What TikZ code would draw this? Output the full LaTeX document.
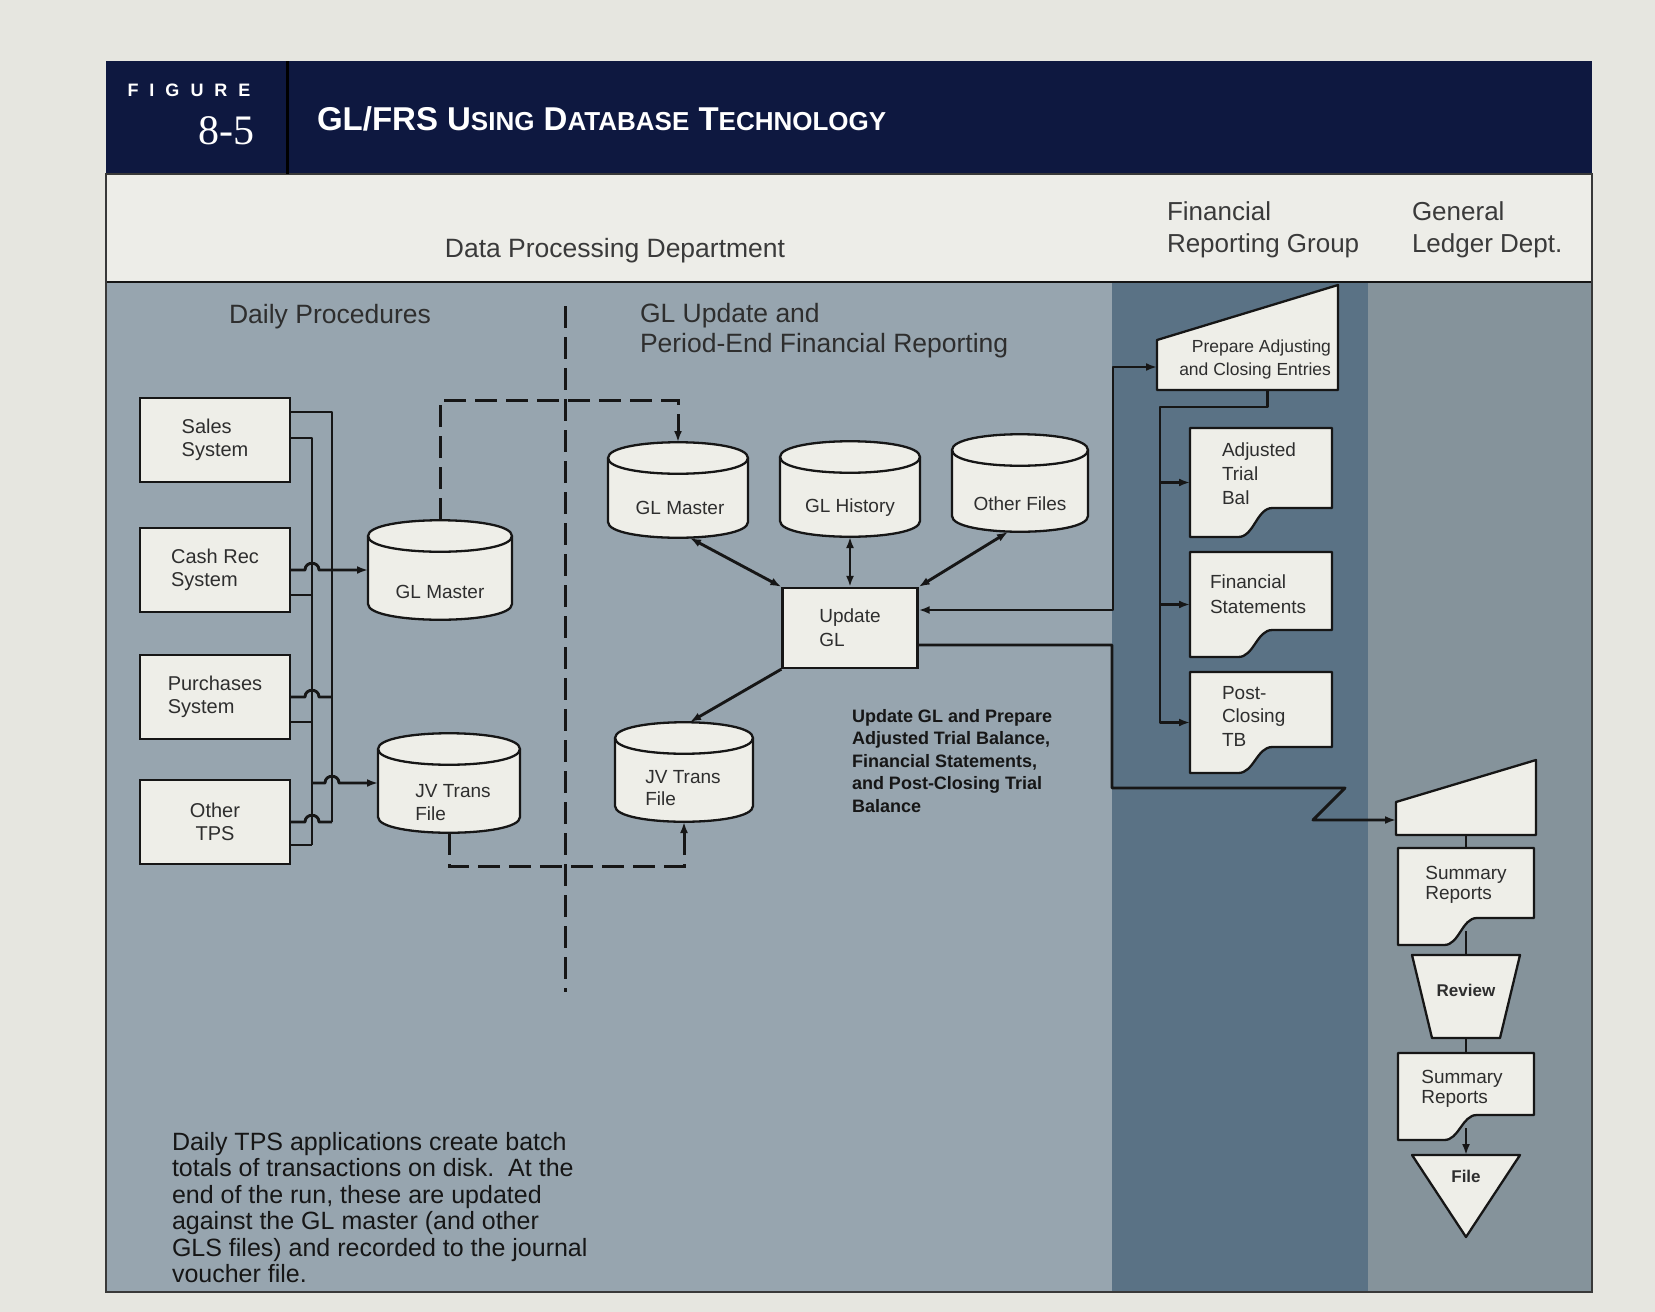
\documentclass[tikz,border=0pt]{standalone}
\usepackage{fontspec}
\setmainfont{Liberation Sans}
\newfontfamily\numserif{Liberation Serif}
\usetikzlibrary{arrows.meta,calc}
\definecolor{paperc}{HTML}{E6E6E0}
\definecolor{navyc}{HTML}{0E1840}
\definecolor{titlezone}{HTML}{EDEDE8}
\definecolor{dplane}{HTML}{97A5AF}
\definecolor{frglane}{HTML}{5A7285}
\definecolor{gllane}{HTML}{85939B}
\definecolor{shapefill}{HTML}{EEEEE8}
\definecolor{inkc}{HTML}{161616}
\definecolor{txtc}{HTML}{2E2E2E}
\definecolor{headtxt}{HTML}{3A3A3A}
\pgfdeclarelayer{back}
\pgfdeclarelayer{mid}
\pgfsetlayers{back,mid,main}
\newcommand\fsz[2]{\fontsize{#1}{#2}\selectfont}
\tikzset{
  shapeline/.style={draw=inkc, fill=shapefill, line width=2.3pt, line join=round},
  anchorbox/.style={shape=rectangle, draw=none, fill=none, inner sep=0pt, outer sep=0pt},
  wire/.style={draw=inkc, line width=2.9pt, line join=round},
  arr/.style={-{Latex[length=11pt,width=8pt]}},
  darr/.style={{Latex[length=11pt,width=8pt]}-{Latex[length=11pt,width=8pt]}},
  dashline/.style={draw=inkc, line width=3pt, dash pattern=on 22pt off 9pt},
  boxs/.style={shape=rectangle, draw=inkc, fill=shapefill, line width=2.3pt, minimum width=150pt, minimum height=84pt, align=left, font=\fsz{20}{23}, text=txtc, inner sep=0pt},
  txt/.style={inner sep=0pt, outer sep=0pt, text=txtc}
}
\newcommand\dbcyl[5]{%
  \filldraw[shapeline] ({#2-#4},{#3-#5+16}) -- ({#2-#4},{#3+#5-16}) .. controls ({#2-#4},{#3+#5+5}) and ({#2+#4},{#3+#5+5}) .. ({#2+#4},{#3+#5-16}) -- ({#2+#4},{#3-#5+16}) .. controls ({#2+#4},{#3-#5-5}) and ({#2-#4},{#3-#5-5}) .. ({#2-#4},{#3-#5+16}) -- cycle;
  \draw[shapeline,fill=none] ({#2-#4},{#3-#5+16}) .. controls ({#2-#4},{#3-#5+37}) and ({#2+#4},{#3-#5+37}) .. ({#2+#4},{#3-#5+16});
  \node[anchorbox, minimum width={2*#4*1pt}, minimum height={2*#5*1pt}] (#1) at (#2,#3) {};
}
\newcommand\docshape[6]{%
  \filldraw[shapeline] (#2,#3) -- (#4,#3) -- (#4,{#5-#6}) -- ({#2+0.58*(#4-#2)},{#5-#6}) .. controls ({#2+0.47*(#4-#2)},{#5-#6}) and ({#2+0.45*(#4-#2)},#5) .. ({#2+0.34*(#4-#2)},#5) -- (#2,#5) -- cycle;
  \node[anchorbox, minimum width={(#4-#2)*1pt}, minimum height={(#5-#3)*1pt}] (#1) at ({(#2+#4)/2},{(#3+#5)/2}) {};
}
\newcommand\mishape[6]{%
  \filldraw[shapeline] (#2,{#3+#6}) -- (#4,#3) -- (#4,#5) -- (#2,#5) -- cycle;
  \node[anchorbox, minimum width={(#4-#2)*1pt}, minimum height={(#5-#3)*1pt}] (#1) at ({(#2+#4)/2},{(#3+#5)/2}) {};
}
\begin{document}
\begin{tikzpicture}[x=1pt,y=-1pt]
\useasboundingbox (0,0) rectangle (1655,1312);
\begin{pgfonlayer}{back}
  \fill[paperc] (0,0) rectangle (1655,1312);
  \fill[navyc] (106,61) rectangle (1592,174);
  \fill[titlezone] (106,174) rectangle (1592,282);
  \fill[dplane] (106,282) rectangle (1112,1292);
  \fill[frglane] (1112,282) rectangle (1368,1292);
  \fill[gllane] (1368,282) rectangle (1592,1292);
  \draw[inkc, line width=1.5pt] (106,282) -- (1592,282);
  \draw[inkc!85, line width=1.5pt] (106,174) rectangle (1592,1292);
  \draw[black, line width=3pt] (287,61) -- (287,174);
\end{pgfonlayer}

% header texts
\node[txt, text=white, font=\bfseries\fsz{18}{20}] (figw) at (189,90) {F\hspace{11pt}I\hspace{11pt}G\hspace{11pt}U\hspace{11pt}R\hspace{11pt}E};
\node[txt, text=white, font=\numserif\fsz{42}{44}, anchor=east] (fignum) at (254,131) {8-5};
\node[txt, text=white, font=\bfseries\fsz{33}{36}, anchor=west] (title) at (317,119) {GL/FRS U{\fsz{26}{30}SING} D{\fsz{26}{30}ATABASE} T{\fsz{26}{30}ECHNOLOGY}};
\node[txt, text=headtxt, font=\fsz{26.5}{30}] (dpd) at (615,251) {Data Processing Department};
\node[txt, text=headtxt, font=\fsz{26}{32}, anchor=west, align=left] (frg) at (1167,230) {Financial\\Reporting Group};
\node[txt, text=headtxt, font=\fsz{26}{32}, anchor=west, align=left] (gld) at (1412,230) {General\\Ledger Dept.};
\node[txt, font=\fsz{26.5}{30}] (dproc) at (330,317) {Daily Procedures};
\node[txt, font=\fsz{26.5}{30}, anchor=west, align=left] (glupd) at (640,331) {GL Update and\\Period-End Financial Reporting};

% left boxes
\node[boxs] (sales) at (215,440) {Sales\\System};
\node[boxs] (cash) at (215,570) {Cash Rec\\System};
\node[boxs] (purch) at (215,697) {Purchases\\System};
\node[boxs, align=center] (other) at (215,822) {Other\\TPS};

% daily cylinders
\dbcyl{glmA}{440}{570}{72}{50}
\node[txt, font=\fsz{19}{23}] (glmAt) at (440,592) {GL Master};
\dbcyl{jvA}{449}{783}{71}{50}
\node[txt, font=\fsz{19}{23}, align=left] (jvAt) at (453,803) {JV Trans\\File};

% GL update cylinders
\dbcyl{glmB}{678}{490}{70}{48}
\node[txt, font=\fsz{19}{23}] (glmBt) at (680,508) {GL Master};
\dbcyl{glhist}{850}{489}{70}{48}
\node[txt, font=\fsz{19}{23}] (glhistt) at (850,508) {GL History};
\dbcyl{othf}{1020}{483}{68}{49}
\node[txt, font=\fsz{19}{23}] (othft) at (1020,504) {Other Files};
\node[boxs, minimum width=135pt, minimum height=80pt, font=\fsz{19}{24}] (upd) at (850,628) {Update\\GL};
\dbcyl{jvB}{684}{772}{69}{50}
\node[txt, font=\fsz{19}{22}, align=left] (jvBt) at (683,788) {JV Trans\\File};

\node[txt, text=inkc, font=\bfseries\fsz{18}{22.5}, anchor=north west, align=left] (upnote) at (852,709) {Update GL and Prepare\\Adjusted Trial Balance,\\Financial Statements,\\and Post-Closing Trial\\Balance};
\node[txt, text=inkc, font=\fsz{25}{26.5}, anchor=north west, align=left] (daynote) at (172,1132) {Daily TPS applications create batch\\totals of transactions on disk.\ \ At the\\end of the run, these are updated\\against the GL master (and other\\GLS files) and recorded to the journal\\voucher file.};

% financial reporting group
\mishape{prep}{1157}{285}{1338}{390}{55}
\node[txt, font=\fsz{17.5}{23}, anchor=east, align=right] (prept) at (1331,359) {Prepare Adjusting\\and Closing Entries};
\docshape{atb}{1190}{428}{1332}{537}{29}
\node[txt, font=\fsz{19}{24}, anchor=west, align=left] (atbt) at (1222,474) {Adjusted\\Trial\\Bal};
\docshape{fs}{1190}{552}{1332}{657}{27}
\node[txt, font=\fsz{19}{25}, anchor=west, align=left] (fst) at (1210,594) {Financial\\Statements};
\docshape{pct}{1190}{672}{1332}{773}{26}
\node[txt, font=\fsz{19}{23.5}, anchor=west, align=left] (pctt) at (1222,716) {Post-\\Closing\\TB};

% general ledger dept
\mishape{mi}{1396}{760}{1536}{835}{42}
\docshape{sr1}{1398}{848}{1534}{945}{27}
\node[txt, font=\fsz{19}{20}, align=left] (sr1t) at (1466,885) {Summary\\Reports};
\filldraw[shapeline] (1412,955) -- (1520,955) -- (1500,1038) -- (1432,1038) -- cycle;
\node[anchorbox, minimum width=108pt, minimum height=83pt] (rv) at (1466,996.5) {};
\node[txt, font=\bfseries\fsz{17}{20}] (rvt) at (1466,990) {Review};
\docshape{sr2}{1398}{1053}{1534}{1140}{25}
\node[txt, font=\fsz{19}{20}, align=left] (sr2t) at (1462,1089) {Summary\\Reports};
\filldraw[shapeline] (1412,1155) -- (1520,1155) -- (1466,1237) -- cycle;
\node[anchorbox, minimum width=108pt, minimum height=82pt] (fl) at (1466,1196) {};
\node[txt, font=\bfseries\fsz{17}{20}] (flt) at (1466,1176) {File};

\coordinate (frbus) at (1160,407);
\coordinate (ibj) at (312,783);

\begin{pgfonlayer}{mid}
  % buses
  \draw[wire] ([yshift=28pt]sales.east) -- (332,412) -- (332,822);
  \draw[wire] ([yshift=2pt]sales.east) -- (312,438) -- (312,845);
  \draw[wire,arr] (cash.east) -- (305,570) .. controls (305,561) and (319,561) .. (319,570) -- (glmA.west);
  \draw[wire] ([yshift=-25pt]cash.east) -- (312,595);
  \draw[wire] (purch.east) -- (305,697) .. controls (305,688) and (319,688) .. (319,697) -- (332,697);
  \draw[wire] ([yshift=-25pt]purch.east) -- (312,722);
  \draw[wire,arr] (ibj) -- (325,783) .. controls (325,774) and (339,774) .. (339,783) -- (jvA.west);
  \draw[wire] (other.east) -- (305,822) .. controls (305,813) and (319,813) .. (319,822) -- (332,822);
  \draw[wire] ([yshift=-23pt]other.east) -- (312,845);
  % dashed
  \draw[dashline] (565,306) -- (565,992);
  \draw[dashline,arr] (glmA.north) -- (440,400) -- (678,400) -- (glmB.north);
  \draw[dashline,arr] (jvA.south) -- (449,866) -- (684,866) -- (jvB.south);
  % update GL
  \draw[wire,darr] ([xshift=12pt]glmB.south) -- (upd.north west);
  \draw[wire,darr] (glhist.south) -- (upd.north);
  \draw[wire,darr] ([xshift=-12pt]othf.south) -- (upd.north east);
  \draw[wire,arr] (upd.south west) -- ([xshift=6pt]jvB.north);
  \draw[wire,darr] ([yshift=18pt]upd.east) -- (1113,610) -- (1113,367) -- ([yshift=23pt]prep.south west);
  \draw[wire,arr] ([yshift=-17pt]upd.east) -- (1112,645) -- (1112,788) -- (1345,788) -- (1313,820) -- ([yshift=15pt]mi.south west);
  % FRG
  \draw[wire,arr] ([xshift=20pt]prep.south) |- (frbus) |- (pct.west);
  \draw[wire,arr] (atb.west -| frbus) -- (atb.west);
  \draw[wire,arr] (fs.west -| frbus) -- (fs.west);
  % GL dept
  \draw[wire] (mi.south) -- (sr1.north);
  \draw[wire] ([yshift=14pt]sr1.south) -- (rv.north);
  \draw[wire] (rv.south) -- (sr2.north);
  \draw[wire,arr] ([yshift=12pt]sr2.south) -- (fl.north);
\end{pgfonlayer}
\end{tikzpicture}
\end{document}
